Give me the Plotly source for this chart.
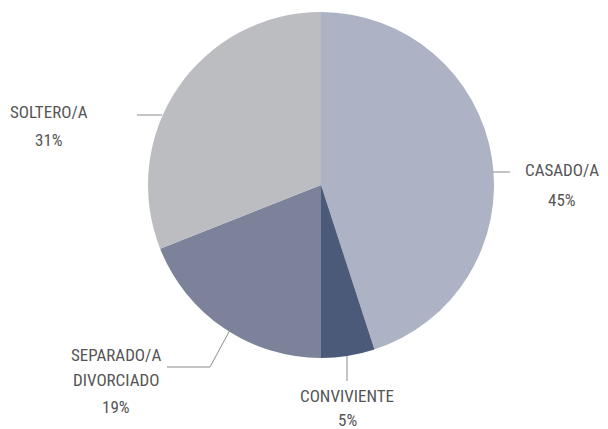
import plotly.graph_objects as go

# ---- data ----
categories = ["CASADO/A", "CONVIVIENTE", "SEPARADO/A DIVORCIADO", "SOLTERO/A"]
label_lines = [["CASADO/A"], ["CONVIVIENTE"], ["SEPARADO/A", "DIVORCIADO"], ["SOLTERO/A"]]
values = [45, 5, 19, 31]
colors = ["#adb3c4", "#4b5a78", "#7b8299", "#bcbdc1"]

W, H = 608, 429
OFF = 8  # page body margin in the viewing window
FONT = "Roboto Condensed, Liberation Sans Narrow, sans-serif"
TXT = "#555555"

def px(x):
    return (x - OFF) / W

def py(y):
    return 1 - (y - OFF) / H

# label layout (window-pixel positions of text lines and leader paths)
label_layout = [
    {"x": 562, "ys": [170, 200], "path": [(493, 172), (510, 172)]},
    {"x": 347, "ys": [396, 420], "path": [(347, 356), (347, 381)]},
    {"x": 116, "ys": [355, 380, 407], "path": [(230, 330), (210, 367), (167, 367)]},
    {"x": 49, "ys": [112, 140], "path": [(162, 115), (137, 115)]},
]

fig = go.Figure(go.Pie(
    labels=categories,
    values=values,
    sort=False,
    direction="clockwise",
    rotation=0,
    marker=dict(colors=colors, line=dict(width=0)),
    textinfo="none",
    hoverinfo="label+percent",
    domain=dict(x=[px(148), px(494)], y=[py(358), py(12)]),
    showlegend=False,
))

annotations = []
shapes = []
for lines, v, lay in zip(label_lines, values, label_layout):
    texts = lines + [f"{v}%"]
    for t, y in zip(texts, lay["ys"]):
        annotations.append(dict(
            x=px(lay["x"]), y=py(y), xref="paper", yref="paper",
            text=t, showarrow=False, xanchor="center", yanchor="middle",
            font=dict(family=FONT, size=17, color=TXT),
        ))
    pts = lay["path"]
    d = "M " + " L ".join(f"{px(x)},{py(y)}" for x, y in pts)
    shapes.append(dict(type="path", path=d, xref="paper", yref="paper",
                       line=dict(color="#8a8a8a", width=1)))

fig.update_layout(
    width=W, height=H,
    margin=dict(l=0, r=0, t=0, b=0),
    paper_bgcolor="white", plot_bgcolor="white",
    annotations=annotations,
    shapes=shapes,
)

fig.write_html("out.html")
